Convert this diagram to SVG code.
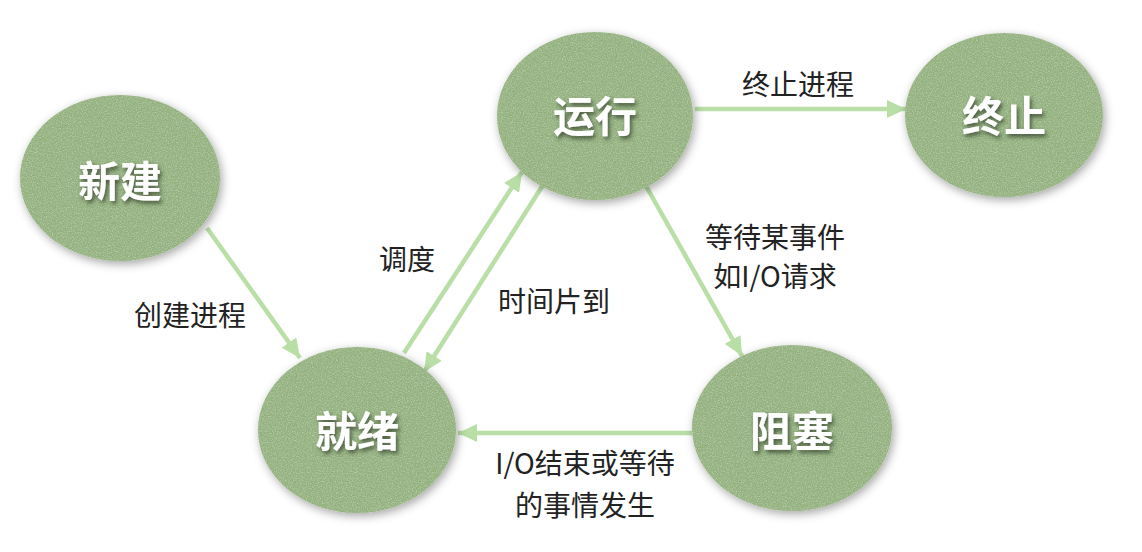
<svg xmlns="http://www.w3.org/2000/svg" width="1142" height="552" viewBox="0 0 1142 552">
  <defs>
    <style>
      .node { fill: #92b17b; filter: url(#felt); }
      .title { font-family: "Noto Sans CJK SC", "Noto Sans", sans-serif; font-size: 42px; font-weight: 700; fill: #ffffff; text-anchor: middle; dominant-baseline: central; filter: url(#lift); }
      .edge { stroke: #b9dea6; stroke-width: 4.5; fill: none; marker-end: url(#tip); }
      .label { font-family: "Noto Sans CJK SC", "Noto Sans", sans-serif; font-size: 28px; font-weight: 400; fill: #222222; text-anchor: middle; dominant-baseline: central; }
    </style>
    <!-- soft halo plus a light speckle on the state discs -->
    <filter id="felt" x="-15%" y="-15%" width="130%" height="135%">
      <feGaussianBlur in="SourceAlpha" stdDeviation="5" result="b"/>
      <feOffset in="b" dx="2" dy="3" result="ob"/>
      <feFlood flood-color="#000000" flood-opacity="0.35"/>
      <feComposite in2="ob" operator="in" result="shadow"/>
      <feTurbulence type="fractalNoise" baseFrequency="0.8" numOctaves="2" seed="7" result="n"/>
      <feColorMatrix in="n" type="matrix" values="0 0 0 0 1  0 0 0 0 1  0 0 0 0 1  0.6 0 0 0 -0.24" result="speck"/>
      <feComposite in="speck" in2="SourceGraphic" operator="in" result="tex"/>
      <feMerge>
        <feMergeNode in="shadow"/>
        <feMergeNode in="SourceGraphic"/>
        <feMergeNode in="tex"/>
      </feMerge>
    </filter>
    <filter id="lift" x="-20%" y="-30%" width="140%" height="170%">
      <feGaussianBlur in="SourceAlpha" stdDeviation="2" result="b"/>
      <feOffset in="b" dx="2" dy="3" result="ob"/>
      <feFlood flood-color="#2d3a25" flood-opacity="0.75"/>
      <feComposite in2="ob" operator="in" result="shadow"/>
      <feMerge>
        <feMergeNode in="shadow"/>
        <feMergeNode in="SourceGraphic"/>
      </feMerge>
    </filter>
    <marker id="tip" markerUnits="userSpaceOnUse" markerWidth="20" markerHeight="18" refX="19" refY="9" orient="auto">
      <path d="M0,0 L19,9 L0,18 z" fill="#b9dea6"/>
    </marker>
  </defs>

  <rect width="1142" height="552" fill="#ffffff"/>

  <g id="connectors">
    <line class="edge" x1="207" y1="228" x2="300" y2="358"/>
    <line class="edge" x1="404" y1="353" x2="522" y2="172"/>
    <line class="edge" x1="543" y1="185" x2="424" y2="372"/>
    <line class="edge" x1="695" y1="109" x2="906" y2="109"/>
    <line class="edge" x1="646" y1="186" x2="742" y2="356"/>
    <line class="edge" x1="692" y1="433" x2="458" y2="433"/>
    <text class="label" x="190" y="314">创建进程</text>
    <text class="label" x="407" y="258">调度</text>
    <text class="label" x="554" y="300">时间片到</text>
    <text class="label" x="798" y="83">终止进程</text>
    <text class="label" x="775" y="236">等待某事件</text>
    <text class="label" x="775" y="275">如I/O请求</text>
    <text class="label" x="585" y="462">I/O结束或等待</text>
    <text class="label" x="585" y="504">的事情发生</text>
  </g>

  <g id="node-new">
    <ellipse class="node" cx="120" cy="178" rx="100" ry="83"/>
    <text class="title" x="120" y="178">新建</text>
  </g>
  <g id="node-running">
    <ellipse class="node" cx="595" cy="116" rx="98" ry="84"/>
    <text class="title" x="595" y="113">运行</text>
  </g>
  <g id="node-terminated">
    <ellipse class="node" cx="1004" cy="115" rx="99" ry="82"/>
    <text class="title" x="1004" y="113">终止</text>
  </g>
  <g id="node-ready">
    <ellipse class="node" cx="357" cy="430" rx="99" ry="83"/>
    <text class="title" x="357" y="428">就绪</text>
  </g>
  <g id="node-blocked">
    <ellipse class="node" cx="792" cy="428" rx="100" ry="83"/>
    <text class="title" x="792" y="428">阻塞</text>
  </g>
</svg>
